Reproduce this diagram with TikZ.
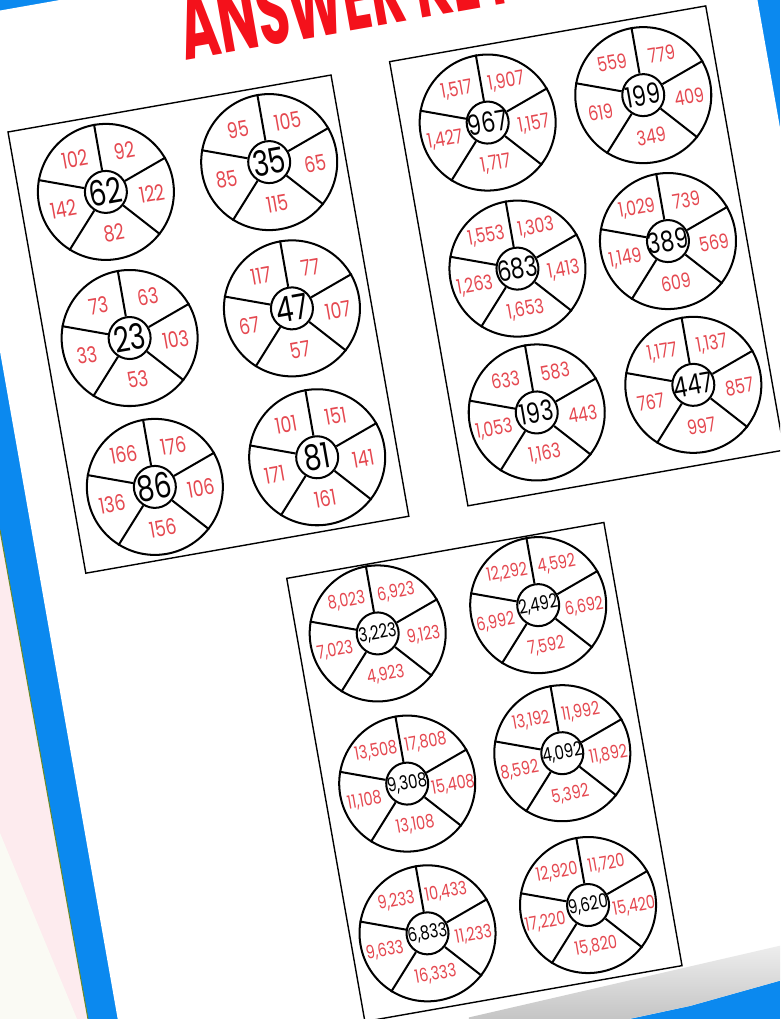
\documentclass[tikz,border=0pt]{standalone}
\usepackage{fontspec}
\usepackage{xcolor}
\newfontfamily\numfont{Poppins}[FakeStretch=0.78]
\newfontfamily\titlefont{Poppins}[FakeStretch=0.55]
\definecolor{pageblue}{HTML}{0B89EF}
\definecolor{keyred}{HTML}{F4111B}
\definecolor{numred}{HTML}{E54850}
\definecolor{sheetpink}{HTML}{FDEBEE}
\definecolor{sheetwhite}{HTML}{FAFAF4}
\definecolor{edgegreen}{HTML}{6A8A2A}

% one answer wheel: name, x, y, hub, upper left, upper right, right, bottom, left
\newcommand{\numwheel}[9]{%
    \node[rim] (#1) at (#2,#3) {};
    \node[hub] (#1h) at (#2,#3) {};
    \node[hubnum] (#1n) at (#2,#3) {#4};
    \foreach \a in {90,20,-48,-132,160}
        \draw[spoke] (#1h.\a) -- (#1.\a);
    \path (#2,#3) ++(124:45) node[ansnum] (#1ul) {#5};
    \path (#2,#3) ++(56:45) node[ansnum] (#1ur) {#6};
    \path (#2,#3) ++(-12:46) node[ansnum] (#1r) {#7};
    \path (#2,#3) ++(-89:42) node[ansnum] (#1b) {#8};
    \path (#2,#3) ++(192:46) node[ansnum] (#1l) {#9};
}

\begin{document}
\begin{tikzpicture}[x=0.2mm, y=0.2mm,
    card/.style={draw=black, line width=0.8pt},
    rim/.style={circle, draw=black, line width=1.15pt, minimum size=27.2mm, inner sep=0pt, transform shape},
    hub/.style={circle, draw=black, line width=1.15pt, minimum size=8.4mm, inner sep=0pt, transform shape},
    spoke/.style={black, line width=1.15pt},
    hubnum/.style={inner sep=0pt, transform shape, font=\numfont\fontsize{20}{20}\selectfont},
    ansnum/.style={text=numred, inner sep=0pt, transform shape, font=\numfont\fontsize{12.5}{12.5}\selectfont}]
    \useasboundingbox (0,0) rectangle (780,-1019);
    \clip (0,0) rectangle (780,-1019);

    % desk and the sheet under the page
    \fill[pageblue] (0,0) rectangle (780,-1019);
    \fill[sheetpink] (0,-530) -- (88,-1019) -- (0,-1019) -- cycle;
    \fill[sheetwhite] (0,-833) -- (77,-1019) -- (0,-1019) -- cycle;
    \draw[edgegreen, line width=0.6pt] (0,-530) -- (88,-1019);

    \begin{scope}[shift={(8,-132)}, rotate=10]
        % page
        \fill[white] (-46,121) -- (761,121) -- (761,-955) -- (520,-979) -- (-46,-1000) -- cycle;
        \shade[top color=white, bottom color=black!30] (300,-952) -- (761,-928) -- (761,-955) -- (520,-979) -- (300,-987) -- cycle;

        \node[anchor=base west, text=keyred, inner sep=0pt, transform shape,
            font=\titlefont\bfseries\fontsize{54}{54}\selectfont] (keytitle) at (187,40) {ANSWER KEY};

        % two-digit card
        \draw[card] (0,0) rectangle (328,-448);
        \numwheel{w62}{86}{-76}{62}{102}{92}{122}{82}{142}
        \numwheel{w35}{252}{-75}{35}{95}{105}{65}{115}{85}
        \numwheel{w23}{84}{-224}{23}{73}{63}{103}{53}{33}
        \numwheel{w47}{249}{-223}{47}{117}{77}{107}{57}{67}
        \numwheel{w86}{83}{-375}{86}{166}{176}{106}{156}{136}
        \numwheel{w81}{248}{-374}{81}{101}{151}{141}{161}{171}

        % three-digit card
        \begin{scope}[hubnum/.append style={font=\numfont\fontsize{16}{16}\selectfont},
            ansnum/.append style={font=\numfont\fontsize{11.5}{11.5}\selectfont}]
            \draw[card] (388,3) rectangle (709,-448);
            \numwheel{w967}{474}{-74}{967}{1,517}{1,907}{1,157}{1,717}{1,427}
            \numwheel{w199}{632}{-74}{199}{559}{779}{409}{349}{619}
            \numwheel{w683}{478}{-223}{683}{1,553}{1,303}{1,413}{1,653}{1,263}
            \numwheel{w389}{631}{-222}{389}{1,029}{739}{569}{609}{1,149}
            \numwheel{w193}{472}{-368}{193}{633}{583}{443}{1,163}{1,053}
            \numwheel{w447}{631}{-368}{447}{1,177}{1,137}{857}{997}{767}
        \end{scope}

        % four-digit card
        \begin{scope}[hubnum/.append style={font=\numfont\fontsize{11}{11}\selectfont},
            ansnum/.append style={font=\numfont\fontsize{10.5}{10.5}\selectfont}]
            \draw[card] (197,-488) rectangle (519,-938);
            \numwheel{w3223}{277}{-558}{3,223}{8,023}{6,923}{9,123}{4,923}{7,023}
            \numwheel{w2492}{440}{-558}{2,492}{12,292}{4,592}{6,692}{7,592}{6,992}
            \numwheel{w9308}{280}{-711}{9,308}{13,508}{17,808}{15,408}{13,108}{11,108}
            \numwheel{w4092}{438}{-708}{4,092}{13,192}{11,992}{11,892}{5,392}{8,592}
            \numwheel{w6833}{274}{-862}{6,833}{9,233}{10,433}{11,233}{16,333}{9,633}
            \numwheel{w9620}{437}{-862}{9,620}{12,920}{11,720}{15,420}{15,820}{17,220}
        \end{scope}
    \end{scope}
\end{tikzpicture}
\end{document}
